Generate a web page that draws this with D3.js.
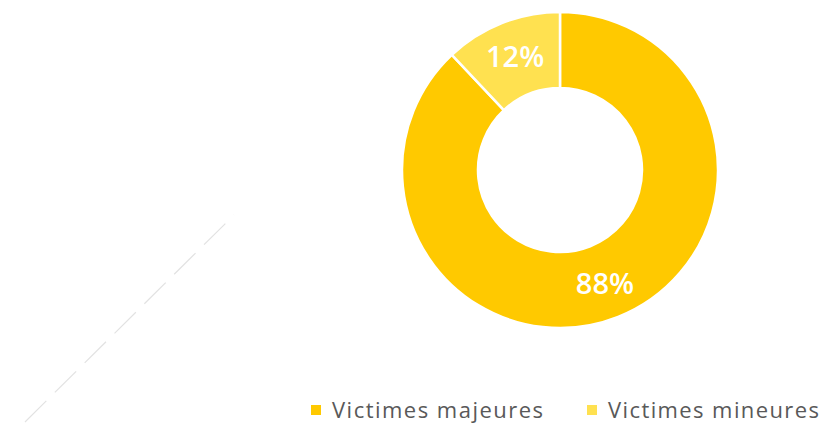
<!DOCTYPE html>
<html>
<head>
<meta charset="utf-8">
<script src="https://cdn.jsdelivr.net/npm/d3@7"></script>
<style>
  html, body { margin: 0; padding: 0; background: #fff; }
  svg { display: block; }
</style>
</head>
<body>
<svg id="chart" width="821" height="425"></svg>
<script>
const categories = ["Victimes majeures", "Victimes mineures"];
const shares = [88, 12];
const colors = ["#FFC900", "#FFE150"];

const svg = d3.select("#chart");
const cx = 560, cy = 170;
const outerR = 158, innerR = 82;

// faint scanner-like trace on the left
svg.append("line")
  .attr("x1", 25).attr("y1", 422)
  .attr("x2", 234).attr("y2", 215)
  .attr("stroke", "#e2e2e2")
  .attr("stroke-width", 1.2)
  .attr("stroke-dasharray", "30,12");

const pie = d3.pie().sort(null).value(d => d);
const arcs = pie(shares);

const arc = d3.arc().innerRadius(innerR).outerRadius(outerR);
const labelArc = d3.arc().innerRadius(122).outerRadius(122);

const g = svg.append("g").attr("transform", `translate(${cx},${cy})`);

g.selectAll("path")
  .data(arcs)
  .join("path")
  .attr("d", arc)
  .attr("fill", (d, i) => colors[i])
  .attr("stroke", "#fff")
  .attr("stroke-width", 2.5);

g.selectAll("text")
  .data(arcs)
  .join("text")
  .attr("transform", d => `translate(${labelArc.centroid(d)})`)
  .attr("text-anchor", "middle")
  .attr("dy", "0.36em")
  .attr("fill", "#fff")
  .attr("font-family", "Open Sans, sans-serif")
  .attr("font-weight", 600)
  .attr("font-size", 29)
  .text(d => d.data + "%");

const legend = svg.append("g").attr("transform", "translate(311,410)");
const legendX = [0, 276];
const item = legend.selectAll("g")
  .data(categories)
  .join("g")
  .attr("transform", (d, i) => `translate(${legendX[i]},0)`);

item.append("rect")
  .attr("x", 0).attr("y", -5)
  .attr("width", 10).attr("height", 10)
  .attr("fill", (d, i) => colors[i]);

item.append("text")
  .attr("x", 21)
  .attr("dy", "0.36em")
  .attr("fill", "#595959")
  .attr("font-family", "Open Sans, sans-serif")
  .attr("font-size", 22)
  .attr("textLength", 211)
  .attr("lengthAdjust", "spacing")
  .text(d => d);
</script>
</body>
</html>
